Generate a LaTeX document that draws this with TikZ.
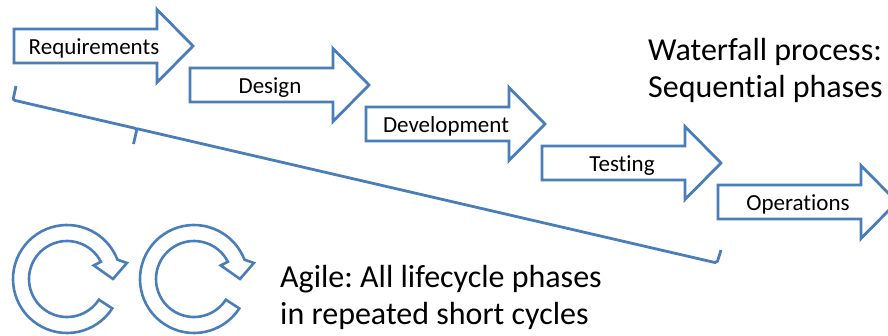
\documentclass[tikz,border=0pt]{standalone}
\usepackage{fontspec}
\setmainfont{Carlito}[Ligatures=NoCommon]
\frenchspacing
\definecolor{blueline}{HTML}{4A7EBB}
\tikzset{
  % block arrow for one waterfall phase; origin = left end of the shaft, on its axis
  pics/phasearrow/.style={code={
    \draw[arrowline] (0,-17) -- (143,-17) -- (143,-36.5) -- (179,0)
      -- (143,36.5) -- (143,17) -- (0,17) -- cycle;
  }},
  % circular arrow turning clockwise; origin = centre of the ring
  pics/cyclearrow/.style={code={
    \draw[cycleline] (33:54) arc[start angle=33, end angle=339, radius=54]
      -- (345:62) -- (0:46) -- (333:30) -- (333:38)
      arc[start angle=333, end angle=33, radius=38] -- cycle;
  }}
}
\begin{document}
\begin{tikzpicture}[x=1pt, y=-1pt, line join=miter,
  arrowline/.style={draw=blueline, line width=2.8pt, fill=white},
  cycleline/.style={draw=blueline, line width=2.6pt, fill=white},
  braceline/.style={draw=blueline, line width=2.8pt, rounded corners=2pt},
  phasetext/.style={font=\fontsize{23}{28}\selectfont, anchor=base, inner sep=0pt},
  bigtext/.style={font=\fontsize{32}{38}\selectfont, anchor=base west, inner sep=0pt}]
\useasboundingbox (0,0) rectangle (888,335);
\clip (0,0) rectangle (888,335);

% waterfall phases, each one step lower and to the right
\foreach \i/\name/\label in {0/req/Requirements, 1/des/Design, 2/dev/Development,
                             3/tst/Testing, 4/ops/Operations} {
  \pic at ({14+176*\i}, {46+39*\i}) {phasearrow};
  \node[phasetext] (\name) at ({94+176*\i}, {54+39*\i}) {\label};
}

% brace spanning the sequence of phases
\coordinate (bl) at (16,86);
\coordinate (blc) at (13,100);
\coordinate (bm) at (137,128.7);
\coordinate (bt) at (133.5,144);
\coordinate (brc) at (717,263);
\coordinate (br) at (721,250);
\draw[braceline] (bl) -- (blc) -- (bm) -- (bt);
\draw[braceline] (bm) -- (brc) -- (br);

\node[bigtext] (wf1) at (648,60) {Waterfall process:};
\node[bigtext] (wf2) at (648,97) {Sequential phases};

% agile cycles
\pic at (67,279) {cyclearrow};
\pic at (194,279) {cyclearrow};

\node[bigtext] (ag1) at (280,287) {Agile: All lifecycle phases};
\node[bigtext] (ag2) at (280,324) {in repeated short cycles};
\end{tikzpicture}
\end{document}
